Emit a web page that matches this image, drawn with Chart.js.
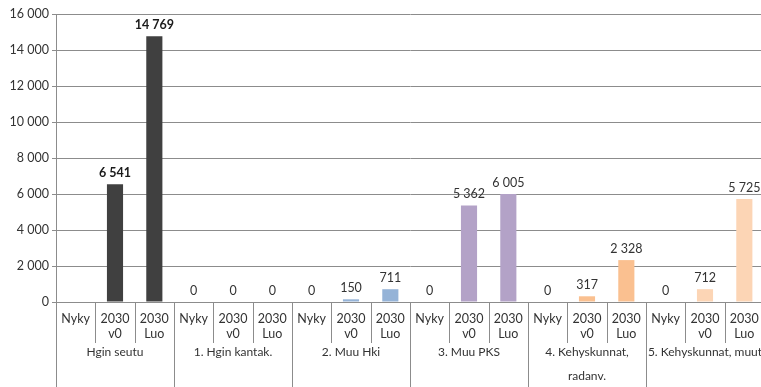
<!DOCTYPE html>
<html lang="fi">
  <head>
    <meta charset="UTF-8" />
    <title>Kaavio</title>
    <script src="https://cdn.jsdelivr.net/npm/chart.js"></script>
    <style>
      body {
        margin: 0;
        background: #ffffff;
        overflow: hidden;
      }
      .chart-box {
        width: 764px;
        height: 387px;
      }
    </style>
  </head>
  <body>
    <div class="chart-box">
      <canvas id="kaavio"></canvas>
    </div>

    <script>
      // Alueet (ryhmät) ja vaihtoehdot
      const alueet = [
        "Hgin seutu",
        "1. Hgin kantak.",
        "2. Muu Hki",
        "3. Muu PKS",
        ["4. Kehyskunnat,", "radanv."],
        "5. Kehyskunnat, muut",
      ];
      const vaihtoehdot = [["Nyky"], ["2030", "v0"], ["2030", "Luo"]];

      // Arvot: 3 per alue
      const arvot = [
        null, 6541, 14769,
        0, 0, 0,
        0, 150, 711,
        0, 5362, 6005,
        0, 317, 2328,
        0, 712, 5725,
      ];
      const lihavoidut = [0, 1, 2]; // Hgin seutu lihavoituna

      const alueVarit = ["#404040", "#95b3d7", "#95b3d7", "#b3a2c7", "#fac090", "#fcd5b5"];

      const yTicks = [0, 2000, 4000, 6000, 8000, 10000, 12000, 14000, 16000];

      // Rakennetaan kategoriat
      const kategoriat = [];
      const varit = [];
      alueet.forEach((a, i) => {
        vaihtoehdot.forEach((v) => {
          kategoriat.push(v);
          varit.push(alueVarit[i]);
        });
      });

      const fmt = (v) => String(v).replace(/\B(?=(\d{3})+(?!\d))/g, " ");
      const fontti = 'Lato, "Open Sans", sans-serif';
      const viivaVari = "#8c8c8c";

      // Arvot palkkien päälle
      const arvoTekstit = {
        id: "arvoTekstit",
        afterDatasetsDraw(chart) {
          const ctx = chart.ctx;
          const meta = chart.getDatasetMeta(0);
          ctx.save();
          ctx.textAlign = "center";
          ctx.textBaseline = "bottom";
          meta.data.forEach((bar, i) => {
            const v = arvot[i];
            if (v === null) return;
            const bold = lihavoidut.includes(i);
            ctx.font = (bold ? "bold " : "") + "12.5px " + fontti;
            ctx.fillStyle = bold ? "#1a1a1a" : "#333333";
            ctx.fillText(fmt(v), bar.x, bar.y - 5);
          });
          ctx.restore();
        },
      };

      // Taulukkomainen x-akseli: erotinviivat ja alueiden nimet
      const akseliTaulu = {
        id: "akseliTaulu",
        afterDraw(chart) {
          const ctx = chart.ctx;
          const x = chart.scales.x;
          const ala = chart.chartArea;
          const n = kategoriat.length;
          const leveys = (x.getPixelForValue(n - 1) - x.getPixelForValue(0)) / (n - 1);
          ctx.save();
          ctx.strokeStyle = viivaVari;
          ctx.lineWidth = 1;
          for (let i = 0; i <= n; i++) {
            const px = Math.round(x.getPixelForValue(0) - leveys / 2 + i * leveys) + 0.5;
            const loppu = i % 3 === 0 ? 387 : ala.bottom + 41;
            ctx.beginPath();
            ctx.moveTo(px, ala.bottom);
            ctx.lineTo(px, loppu);
            ctx.stroke();
          }
          ctx.font = "12px " + fontti;
          ctx.fillStyle = "#333333";
          ctx.textAlign = "center";
          ctx.textBaseline = "middle";
          alueet.forEach((a, i) => {
            const cx = x.getPixelForValue(i * 3 + 1);
            const rivit = Array.isArray(a) ? a : [a];
            rivit.forEach((r, j) => {
              ctx.fillText(r, cx, ala.bottom + 50 + j * 24);
            });
          });
          ctx.restore();
        },
      };

      new Chart(document.getElementById("kaavio"), {
        type: "bar",
        data: {
          labels: kategoriat,
          datasets: [
            {
              data: arvot,
              backgroundColor: varit,
              categoryPercentage: 1,
              barPercentage: 0.41,
            },
          ],
        },
        options: {
          responsive: true,
          maintainAspectRatio: false,
          animation: false,
          layout: { padding: { top: 14, left: 0, right: 0, bottom: 0 } },
          plugins: {
            legend: { display: false },
            tooltip: { enabled: false },
          },
          scales: {
            x: {
              grid: { display: false },
              border: { display: true, color: viivaVari, width: 1 },
              ticks: {
                color: "#333333",
                font: { family: fontti, size: 12.5 },
                padding: 1,
                maxRotation: 0,
                autoSkip: false,
              },
              afterFit(s) {
                s.height = 85;
              },
            },
            y: {
              min: 0,
              max: 16000,
              afterBuildTicks(s) {
                s.ticks = yTicks.map((v) => ({ value: v }));
              },
              grid: { color: viivaVari, tickLength: 4 },
              border: { display: true, color: viivaVari },
              ticks: {
                color: "#333333",
                font: { family: fontti, size: 12.5 },
                padding: 3,
                callback: (v) => fmt(v),
              },
              afterFit(s) {
                s.width = 56;
              },
            },
          },
        },
        plugins: [arvoTekstit, akseliTaulu],
      });
    </script>
  </body>
</html>
